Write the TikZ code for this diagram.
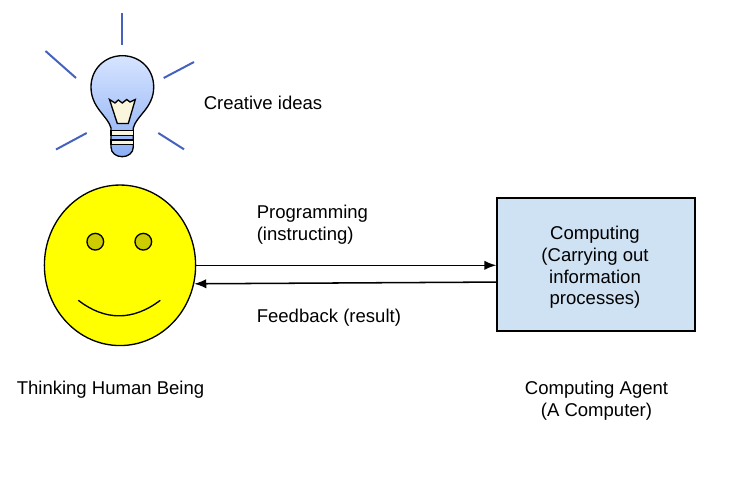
\documentclass[tikz,border=0pt]{standalone}
\usepackage{fontspec}
\setmainfont{Liberation Sans}
\usepackage{tikz}
\usetikzlibrary{shapes.geometric,arrows.meta}

\definecolor{raycol}{RGB}{68,98,190}
\definecolor{facefill}{RGB}{255,255,0}
\definecolor{agentfill}{RGB}{207,226,243}
\definecolor{eyefill}{RGB}{204,204,0}
\definecolor{creamfill}{RGB}{250,246,222}
\definecolor{bulbtop}{RGB}{214,228,255}
\definecolor{bulbbot}{RGB}{140,175,245}

\tikzset{
  lbl/.style={inner sep=0.75pt,font=\fontsize{13.9}{16.3}\selectfont},
  ray/.style={draw=raycol,line width=1.5pt},
  link/.style={draw=black,line width=1.15pt,-{Latex[length=9pt,width=7pt]}}
}

\begin{document}
\begin{tikzpicture}[x=0.75pt,y=0.75pt,yscale=-1,xscale=1]
\useasboundingbox (0,0) rectangle (746,492);

%Rays
\draw [ray] (122.3,13.3) -- (122.3,45.3) ;
\draw [ray] (45.5,51) -- (76,78) ;
\draw [ray] (163.7,78) -- (194,62) ;
\draw [ray] (56,149.5) -- (86.7,133) ;
\draw [ray] (158.3,133) -- (184,149.3) ;

%Bulb
\draw [line width=1pt, top color=bulbtop, bottom color=bulbbot] (111,128) .. controls (108,116) and (91,108) .. (91,87) .. controls (91,69) and (105,55.7) .. (122.3,55.7) .. controls (140,55.7) and (153.7,69) .. (153.7,87) .. controls (153.7,108) and (136,116) .. (133.3,128) -- (133.3,147) .. controls (133.3,153) and (128,156.7) .. (122.3,156.7) .. controls (116,156.7) and (111,153) .. (111,147) -- cycle ;
%Filament
\draw [line width=1pt, fill=creamfill] (109.5,99.5) -- (115,103) -- (118.3,100) -- (122.3,103) -- (126.7,99.5) -- (130,102) -- (135.3,99.5) -- (128.3,123.5) -- (117.3,123.5) -- cycle ;
%Base
\draw [line width=1.2pt, fill=creamfill] (111,130.5) rectangle (133.3,135.5) ;
\draw [line width=1.2pt, fill=creamfill] (111,140) rectangle (133.3,144.5) ;

%Face
\node (face) [ellipse, draw, line width=1pt, fill=facefill, minimum width=113.4pt, minimum height=120.4pt, inner sep=0pt] at (120,265.3) {};
\node (eyeL) [circle, draw, line width=1pt, fill=eyefill, minimum size=12.5pt, inner sep=0pt] at (95.3,241.7) {};
\node (eyeR) [circle, draw, line width=1pt, fill=eyefill, minimum size=12.5pt, inner sep=0pt] at (143.3,241.7) {};
\draw [line width=1pt] (78.3,300.3) .. controls (105,321) and (133,321) .. (160.3,300.3) ;

%Agent box
\node (agent) [rectangle, draw, line width=1pt, fill=agentfill, minimum width=148.5pt, minimum height=99.75pt, inner sep=0pt] at (596,264.5) {};

%Straight Lines
\draw [link] (face.east) -- (face.east -| agent.west) ;
\draw [link] (agent.190.6) -- (face.-14.5) ;

% Text Node
\draw (202.5,95) node (ideas) [anchor=north west][lbl] [align=left] {Creative ideas};
% Text Node
\draw (255.5,204) node (prog) [anchor=north west][lbl] [align=left] {Programming\\(instructing)};
% Text Node
\draw (255.5,308) node (back) [anchor=north west][lbl] [align=left] {Feedback (result)};
% Text Node
\draw (595,267.5) node (comp) [lbl] [align=center] {Computing\\(Carrying out\\information\\processes)};
% Text Node
\draw (15.5,380) node (human) [anchor=north west][lbl] [align=left] {Thinking Human Being};
% Text Node
\draw (596.5,401) node (agentname) [lbl] [align=center] {Computing Agent\\(A Computer)};

\end{tikzpicture}
\end{document}
